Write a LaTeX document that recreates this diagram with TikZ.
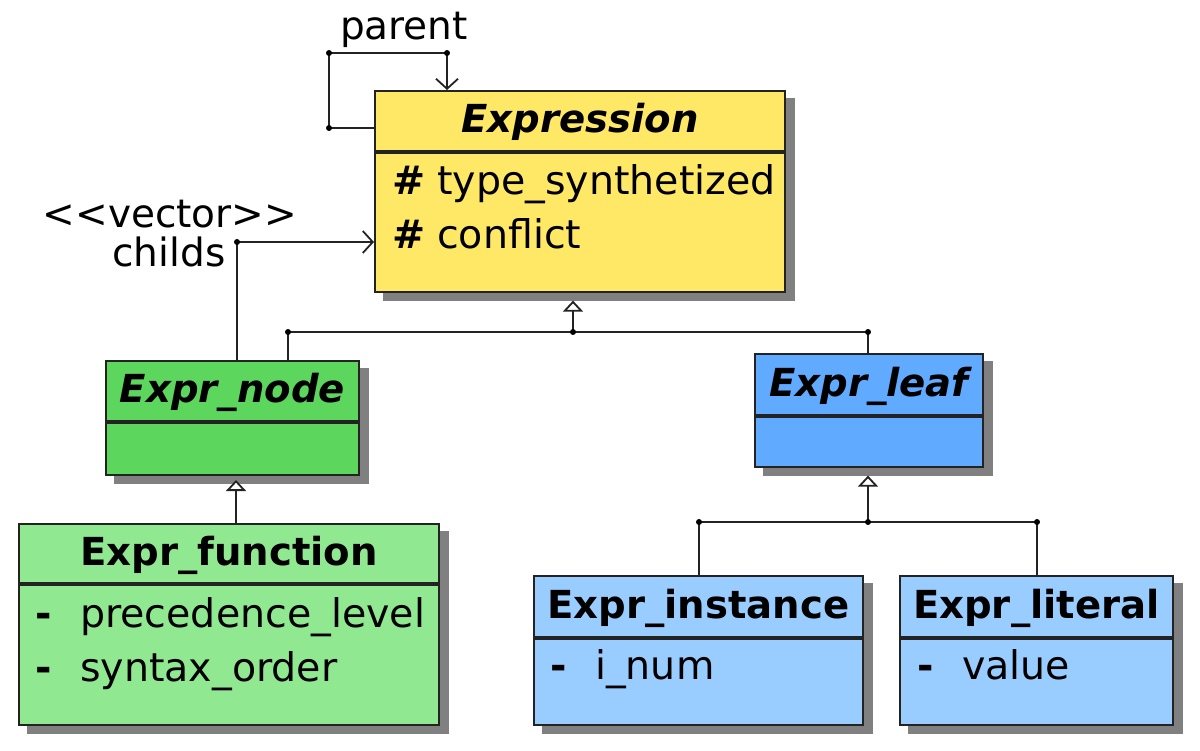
\documentclass[tikz,border=0pt]{standalone}
\usepackage{fontspec}
\setmainfont{DejaVu Sans}
\usetikzlibrary{arrows.meta,calc,backgrounds}

\definecolor{exprYellow}{RGB}{255,232,102}
\definecolor{nodeGreen}{RGB}{92,214,92}
\definecolor{funcGreen}{RGB}{144,232,144}
\definecolor{leafBlue}{RGB}{96,170,255}
\definecolor{termBlue}{RGB}{153,204,255}
\definecolor{shadowGray}{RGB}{128,128,128}
\definecolor{edgeGray}{RGB}{35,35,35}

\tikzset{
	classhead/.style={draw=edgeGray, line width=1.8pt, inner sep=0pt, anchor=north west,
		text height=24pt, text depth=0pt, font=\fontsize{38.6}{46}\selectfont\bfseries},
	classbody/.style={draw=edgeGray, line width=1.8pt, inner sep=0pt, anchor=north},
	attr/.style={inner sep=0pt, anchor=base west, font=\fontsize{39.5}{46}\selectfont},
	lbl/.style={inner sep=0pt, anchor=base, font=\fontsize{39}{46}\selectfont},
	conn/.style={draw=edgeGray, line width=1.8pt},
	assoc/.style={conn, -{Straight Barb[length=10pt,width=22pt]}},
	gen/.style={conn, -{Triangle[length=11pt,width=20pt,fill=white]}},
	joint/.style={fill=black},
}
\newcommand{\vis}[1]{\makebox[45pt][l]{\textbf{#1}}}

\begin{document}
\begin{tikzpicture}[x=1pt,y=-1pt]
	\useasboundingbox (0,0) rectangle (1200,751);
	
	% classes
	\begin{scope}
		\node[classhead, fill=exprYellow, minimum width=410pt, minimum height=60pt] (expr) at (374,90) {\itshape Expression};
		\node[classbody, fill=exprYellow, minimum width=410pt, minimum height=139pt] (exprbody) at (expr.south) {};
		\node[attr] (exprtype) at ($(expr.south west)+(18,43)$) {\vis{\#}type\_synthetized};
		\node[attr] (exprconf) at ($(expr.south west)+(18,97)$) {\vis{\#}conflict};
		
		\node[classhead, fill=nodeGreen, minimum width=253pt, minimum height=60pt] (node) at (105,360) {\itshape Expr\_node};
		\node[classbody, fill=nodeGreen, minimum width=253pt, minimum height=52pt] (nodebody) at (node.south) {};
		
		\node[classhead, fill=leafBlue, minimum width=228pt, minimum height=61pt] (leaf) at (754,353) {\itshape Expr\_leaf};
		\node[classbody, fill=leafBlue, minimum width=228pt, minimum height=50pt] (leafbody) at (leaf.south) {};
		
		\node[classhead, fill=funcGreen, minimum width=420pt, minimum height=59pt] (func) at (18,523) {Expr\_function};
		\node[classbody, fill=funcGreen, minimum width=420pt, minimum height=140pt] (funcbody) at (func.south) {};
		\node[attr] (funcprec) at ($(func.south west)+(17,44)$) {\vis{-}precedence\_level};
		\node[attr] (funcsynt) at ($(func.south west)+(17,98)$) {\vis{-}syntax\_order};
		
		\node[classhead, fill=termBlue, minimum width=329pt, minimum height=61pt] (inst) at (533,575) {Expr\_instance};
		\node[classbody, fill=termBlue, minimum width=329pt, minimum height=86pt] (instbody) at (inst.south) {};
		\node[attr] (instnum) at ($(inst.south west)+(17,42)$) {\vis{-}i\_num};
		
		\node[classhead, fill=termBlue, minimum width=273pt, minimum height=61pt] (lit) at (899,575) {Expr\_literal};
		\node[classbody, fill=termBlue, minimum width=273pt, minimum height=86pt] (litbody) at (lit.south) {};
		\node[attr] (litval) at ($(lit.south west)+(18,42)$) {\vis{-}value};
	\end{scope}
	
	% shadows
	\begin{scope}[on background layer]
		\foreach \head/\body in {expr/exprbody, node/nodebody, leaf/leafbody, func/funcbody, inst/instbody, lit/litbody}
			\fill[shadowGray] ($(\head.north west)+(9,8)$) rectangle ($(\body.south east)+(9,8)$);
	\end{scope}
	
	% bend points
	\coordinate (loopA) at (329,128);
	\coordinate (loopB) at (447,53);
	\coordinate (childA) at (237,242);
	\coordinate (genL) at (288,332);
	\coordinate (genA) at (573,332);
	\coordinate (genR) at (868,332);
	\coordinate (funcUp) at (236,480);
	\coordinate (leafL) at (699,522);
	\coordinate (leafJ) at (868,522);
	\coordinate (leafR) at (1037,522);
	
	% associations
	\begin{scope}
		\draw[assoc] (expr.west |- loopA) -- (loopA) |- (loopB) -- (loopB |- expr.north);
		\draw[assoc] (node.north -| childA) -- (childA) -- (childA -| expr.west);
		\node[lbl] (parentlbl) at (404,40) {parent};
		\node[lbl] (vectorlbl) at (170,228) {\mbox{<}\mbox{<}vector\mbox{>}\mbox{>}};
		\node[lbl] (childslbl) at (169,267) {childs};
	\end{scope}
	
	% generalizations
	\begin{scope}
		\draw[conn] (genL |- node.north) -- (genL) -- (genR) -- (genR |- leaf.north);
		\draw[gen] (genA) -- ($(genA |- exprbody.south)+(0,8)$);
		\draw[gen] (func.north -| funcUp) -- (funcUp);
		\draw[conn] (leafL |- inst.north) -- (leafL) -- (leafR) -- (leafR |- lit.north);
		\draw[gen] (leafJ) -- ($(leafJ |- leafbody.south)+(0,8)$);
	\end{scope}
	
	% joints
	\foreach \pt in {loopA, loopB, childA, genL, genA, genR, leafL, leafJ, leafR}
		\fill[joint] (\pt) circle[radius=3pt];
	\fill[joint] (loopA |- loopB) circle[radius=3pt];
\end{tikzpicture}
\end{document}
